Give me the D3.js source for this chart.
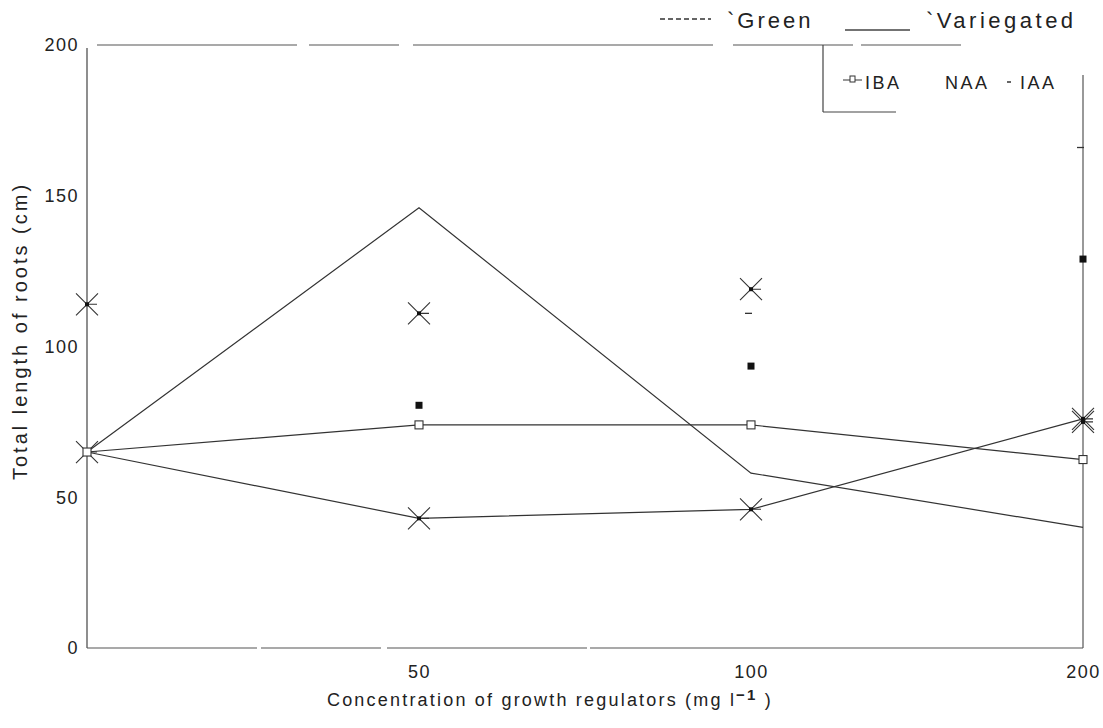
<!DOCTYPE html>
<html>
<head>
<meta charset="utf-8">
<script src="https://cdn.jsdelivr.net/npm/d3@7"></script>
<style>
  body { margin: 0; background: #fff; }
  text { font-family: "Liberation Sans", Arial, sans-serif; fill: #222; }
</style>
</head>
<body>
<svg id="chart" width="1103" height="728"></svg>
<script>
// concentrations (categories on x)
var concentrations = ["0", "50", "100", "200"];
var xTickLabels = ["", "50", "100", "200"];
var yTicks = [0, 50, 100, 150, 200];

// Variegated (solid lines)
var varIBA = [65, 74, 74, 62.5];
var varNAA = [65, 146, 58, 40];
var varIAA = [65, 43, 46, 76];

// Green (dashed lines, faded in the print - only markers remain)
var greenIBA = [null, 80.5, 93.5, 129];
var greenNAA = [null, null, 111, 166];
var greenIAA = [114, 111, 119, 75];

var svg = d3.select("#chart");
var mLeft = 87, mRight = 1083, mTop = 45, mBottom = 648;

var x = d3.scalePoint().domain(concentrations).range([mLeft, mRight]);
var y = d3.scaleLinear().domain([0, 200]).range([mBottom, mTop]);

// frame bits
svg.append("line").attr("x1", mLeft).attr("x2", mLeft).attr("y1", mTop + 3).attr("y2", mBottom)
  .attr("stroke", "#444").attr("stroke-width", 1.2);
svg.append("line").attr("x1", mLeft).attr("x2", mRight).attr("y1", mBottom).attr("y2", mBottom)
  .attr("stroke", "#555").attr("stroke-width", 1.2).attr("stroke-dasharray", "170,4,120,6,200,3,500");
svg.append("line").attr("x1", mRight).attr("x2", mRight).attr("y1", 75).attr("y2", mBottom)
  .attr("stroke", "#555").attr("stroke-width", 1.2);
svg.append("line").attr("x1", mLeft + 10).attr("x2", 1010).attr("y1", mTop).attr("y2", mTop)
  .attr("stroke", "#555").attr("stroke-width", 1.2).attr("stroke-dasharray", "200,12,90,14,300,20,120,8,100");

// axes (labels only)
var yAxis = svg.append("g").attr("transform", "translate(" + mLeft + ",0)")
  .call(d3.axisLeft(y).tickValues(yTicks).tickSize(0).tickPadding(8));
yAxis.select(".domain").remove();
yAxis.selectAll("text").attr("font-size", 18).attr("letter-spacing", 1.5)
  .attr("font-family", "Liberation Sans, Arial, sans-serif").attr("fill", "#222");

var xAxis = svg.append("g").attr("transform", "translate(0," + mBottom + ")")
  .call(d3.axisBottom(x).tickSize(0).tickPadding(17).tickFormat(function(d, i) { return xTickLabels[i]; }));
xAxis.select(".domain").remove();
xAxis.selectAll("text").attr("font-size", 18).attr("letter-spacing", 1.5)
  .attr("font-family", "Liberation Sans, Arial, sans-serif").attr("fill", "#222");

// axis titles
svg.append("text").attr("transform", "translate(27,331) rotate(-90)")
  .attr("text-anchor", "middle").attr("font-size", 20).attr("letter-spacing", 3)
  .text("Total length of roots (cm)");
var xt = svg.append("text").attr("x", 550).attr("y", 706).attr("text-anchor", "middle")
  .attr("font-size", 18).attr("letter-spacing", 2.2);
xt.append("tspan").text("Concentration of growth regulators (mg l");
xt.append("tspan").attr("dy", -6).attr("font-size", 15).attr("font-weight", "bold").text("\u22121");
xt.append("tspan").attr("dy", 6).text(" )");

// lines
var line = d3.line()
  .defined(function(d) { return d != null; })
  .x(function(d, i) { return x(concentrations[i]); })
  .y(function(d) { return y(d); });

[varIBA, varNAA, varIAA].forEach(function(s) {
  svg.append("path").datum(s).attr("d", line)
    .attr("fill", "none").attr("stroke", "#333").attr("stroke-width", 1.2);
});

// markers
function star(g) {
  g.append("path").attr("d", "M-11,-11L11,11M-11,11L11,-11M0,0L10,0")
    .attr("stroke", "#333").attr("stroke-width", 1.1).attr("fill", "none");
  g.append("rect").attr("x", -2).attr("y", -2).attr("width", 4).attr("height", 4).attr("fill", "#111");
}
function pts(data) {
  return data.map(function(v, i) { return { c: concentrations[i], v: v }; })
    .filter(function(d) { return d.v != null; });
}

// variegated IAA - stars
svg.selectAll("g.vIAA").data(pts(varIAA)).enter().append("g").attr("class", "vIAA")
  .attr("transform", function(d) { return "translate(" + x(d.c) + "," + y(d.v) + ")"; })
  .each(function() { star(d3.select(this)); });

// green IAA - stars
svg.selectAll("g.gIAA").data(pts(greenIAA)).enter().append("g").attr("class", "gIAA")
  .attr("transform", function(d) { return "translate(" + x(d.c) + "," + y(d.v) + ")"; })
  .each(function() { star(d3.select(this)); });

// variegated IBA - open squares
svg.selectAll("rect.vIBA").data(pts(varIBA)).enter().append("rect").attr("class", "vIBA")
  .attr("x", function(d) { return x(d.c) - 4; }).attr("y", function(d) { return y(d.v) - 4; })
  .attr("width", 8).attr("height", 8).attr("fill", "#fff").attr("stroke", "#333").attr("stroke-width", 1.1);

// green IBA - filled squares
svg.selectAll("rect.gIBA").data(pts(greenIBA)).enter().append("rect").attr("class", "gIBA")
  .attr("x", function(d) { return x(d.c) - 3.5; }).attr("y", function(d) { return y(d.v) - 3.5; })
  .attr("width", 7).attr("height", 7).attr("fill", "#111");

// green NAA - small dashes
svg.selectAll("line.gNAA").data(pts(greenNAA)).enter().append("line").attr("class", "gNAA")
  .attr("x1", function(d) { return x(d.c) - 6; }).attr("x2", function(d) { return x(d.c) + 1; })
  .attr("y1", function(d) { return y(d.v); }).attr("y2", function(d) { return y(d.v); })
  .attr("stroke", "#333").attr("stroke-width", 1.3);

// legend
var lg = svg.append("g");
lg.append("line").attr("x1", 660).attr("x2", 711).attr("y1", 19).attr("y2", 19)
  .attr("stroke", "#333").attr("stroke-width", 1.3).attr("stroke-dasharray", "5,3");
lg.append("text").attr("x", 727).attr("y", 28).attr("font-size", 22).attr("letter-spacing", 3).text("`Green");
lg.append("line").attr("x1", 845).attr("x2", 910).attr("y1", 30).attr("y2", 30)
  .attr("stroke", "#444").attr("stroke-width", 1.3);
lg.append("text").attr("x", 926).attr("y", 28).attr("font-size", 22).attr("letter-spacing", 3.5).text("`Variegated");

lg.append("line").attr("x1", 823).attr("x2", 823).attr("y1", mTop).attr("y2", 112).attr("stroke", "#444").attr("stroke-width", 1.2);
lg.append("line").attr("x1", 823).attr("x2", 896).attr("y1", 112).attr("y2", 112).attr("stroke", "#444").attr("stroke-width", 1.2);

lg.append("line").attr("x1", 843).attr("x2", 862).attr("y1", 80).attr("y2", 80).attr("stroke", "#333");
lg.append("rect").attr("x", 850).attr("y", 76).attr("width", 5).attr("height", 6).attr("fill", "#fff").attr("stroke", "#333");
lg.append("text").attr("x", 865).attr("y", 89).attr("font-size", 18).attr("letter-spacing", 2.5).text("IBA");
lg.append("text").attr("x", 945).attr("y", 89).attr("font-size", 18).attr("letter-spacing", 2.5).text("NAA");
lg.append("line").attr("x1", 1007).attr("x2", 1011).attr("y1", 82).attr("y2", 82).attr("stroke", "#333").attr("stroke-width", 1.5);
lg.append("text").attr("x", 1020).attr("y", 89).attr("font-size", 18).attr("letter-spacing", 2.5).text("IAA");
</script>
</body>
</html>
